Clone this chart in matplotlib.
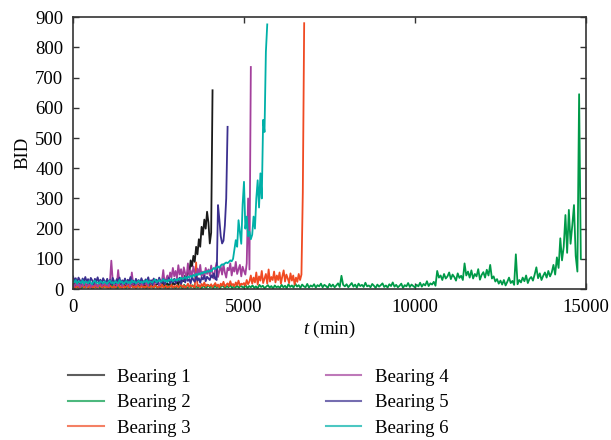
import numpy as np
import matplotlib
matplotlib.use("Agg")
import matplotlib.pyplot as plt

plt.rcParams["font.family"] = ["Liberation Serif", "DejaVu Serif"]
plt.rcParams["mathtext.fontset"] = "custom"
plt.rcParams["mathtext.it"] = "Liberation Serif:italic"
plt.rcParams["mathtext.rm"] = "Liberation Serif"

# BID values (sampling step in minutes per series)
step_green = 50
step_other = 40

bid1 = [
    12, 18, 9, 15, 21, 11, 16, 8, 14, 19, 10, 17, 13, 7, 15, 20, 11, 16, 9, 14, 18, 12, 8, 15, 11,
    17, 10, 14, 20, 9, 15, 12, 18, 8, 13, 19, 11, 16, 10, 14, 21, 9, 15, 12, 17, 8, 13, 18, 10, 15,
    12, 19, 9, 14, 17, 11, 16, 8, 13, 20, 10, 15, 18, 12, 9, 16, 21, 11, 14, 19, 13, 17, 10, 22, 15,
    18, 25, 14, 30, 22, 38, 26, 45, 35, 60, 50, 95, 75, 110, 90, 140, 115, 165, 140, 206, 180, 230, 200, 256, 220,
    151, 187, 658,
]

bid2 = [
    8, 3, 12, 5, 10, 2, 14, 6, 9, 4, 11, 3, 13, 7, 5, 12, 2, 9, 6, 15,
    4, 10, 3, 13, 6, 8, 2, 11, 5, 14, 7, 3, 10, 4, 12, 6, 9, 2, 13, 5,
    11, 4, 8, 2, 14, 6, 10, 3, 12, 5, 9, 2, 15, 7, 4, 11, 3, 13, 6, 8,
    3, 12, 5, 10, 2, 14, 7, 4, 11, 6, 13, 3, 9, 5, 12, 2, 10, 7, 4, 14,
    6, 9, 3, 12, 5, 11, 2, 13, 8, 4, 10, 6, 14, 3, 9, 5, 12, 4, 11, 7,
    5, 13, 3, 10, 6, 12, 4, 9, 2, 14, 7, 11, 3, 8, 13, 5, 10, 2, 12, 6,
    9, 4, 14, 6, 11, 3, 16, 7, 12, 5, 18, 8, 13, 4, 15, 9, 6, 17, 5, 12,
    8, 16, 5, 13, 9, 18, 6, 14, 10, 4, 17, 8, 15, 6, 12, 19, 7, 44, 14, 9,
    16, 6, 13, 20, 8, 15, 5, 18, 10, 14, 7, 21, 9, 12, 6, 17, 11, 4, 15, 8,
    13, 19, 7, 12, 5, 16, 10, 22, 8, 14, 6, 11, 18, 4, 13, 9, 20, 7, 15, 10,
    6, 14, 9, 21, 8, 17, 12, 26, 10, 19, 15, 24, 11, 60, 38, 45, 30, 50, 35, 42,
    55, 33, 48, 40, 28, 52, 37, 44, 30, 85, 45, 58, 38, 62, 35, 50, 42, 66, 31, 47,
    56, 38, 64, 45, 80, 35, 42, 25, 33, 18, 28, 15, 30, 12, 24, 38, 20, 27, 14, 115,
    16, 30, 22, 38, 26, 45, 20, 34, 40, 28, 48, 72, 36, 52, 30, 44, 55, 38, 60, 42,
    55, 80, 48, 105, 70, 168, 95, 140, 245, 120, 262, 150, 210, 278, 110, 58, 645, 100,
]

bid3 = [
    6, 10, 4, 12, 7, 3, 9, 14, 5, 8, 11, 4, 13, 6, 9, 3, 12, 7, 5, 10, 14, 4, 8, 11, 6,
    9, 3, 13, 7, 5, 11, 4, 10, 15, 6, 8, 3, 12, 5, 9, 14, 4, 7, 11, 6, 10, 3, 13, 8, 5,
    12, 6, 9, 4, 14, 7, 3, 11, 8, 5, 13, 9, 4, 10, 6, 15, 5, 8, 12, 3, 9, 7, 14, 4, 10,
    7, 13, 5, 10, 16, 6, 12, 4, 9, 18, 7, 14, 8, 11, 5, 88, 9, 13, 6, 17, 10, 22, 8, 15, 12,
    10, 16, 7, 13, 20, 9, 15, 6, 18, 11, 24, 8, 14, 19, 10, 26, 12, 17, 9, 22, 13, 28, 11, 18, 15,
    20, 12, 30, 16, 25, 45, 18, 38, 22, 55, 15, 42, 28, 60, 20, 35, 50, 18, 65, 25, 40, 30, 58, 22, 45,
    30, 55, 18, 42, 62, 25, 48, 35, 20, 52, 28, 45, 15, 38, 24, 50, 30, 48, 320, 880,
]

bid4 = [
    15, 8, 22, 12, 18, 6, 25, 10, 16, 20, 9, 14, 24, 7, 19, 11, 21, 13, 8, 17, 23, 10, 15, 19, 12,
    18, 9, 24, 94, 30, 14, 20, 11, 63, 16, 22, 10, 19, 25, 13, 17, 21, 8, 55, 15, 23, 12, 18, 26, 14,
    20, 13, 27, 16, 22, 11, 25, 18, 30, 14, 24, 19, 28, 12, 21, 26, 63, 17, 32, 45, 28, 55, 38, 70, 42,
    60, 35, 79, 48, 66, 30, 72, 52, 40, 85, 45, 62, 38, 75, 55, 33, 68, 48, 80, 42, 58, 36, 70, 50, 65,
    45, 78, 52, 35, 68, 88, 40, 60, 75, 48, 82, 55, 38, 70, 62, 85, 45, 72, 58, 90, 50, 66, 80, 42, 74,
    60, 48, 85, 300, 65, 735,
]

bid5 = [
    42, 28, 36, 22, 38, 30, 18, 35, 26, 40, 24, 33, 20, 37, 29, 16, 34, 25, 39, 22, 31, 18, 36, 27, 21,
    34, 20, 30, 15, 37, 26, 19, 33, 24, 38, 17, 29, 22, 35, 18, 31, 25, 40, 21, 28, 16, 34, 23, 30, 19,
    36, 24, 17, 32, 27, 39, 20, 29, 15, 35, 23, 31, 18, 38, 26, 21, 33, 17, 30, 24, 37, 19, 28, 22, 34,
    20, 31, 25, 38, 17, 29, 35, 22, 40, 27, 33, 19, 42, 30, 24, 45, 28, 36, 21, 39, 32, 44, 26, 41, 35,
    30, 46, 38, 52, 34, 30, 278, 230, 175, 151, 160, 210, 300, 537,
]

bid6 = [
    28, 22, 30, 18, 26, 24, 20, 29, 17, 25, 23, 19, 27, 21, 16, 24, 28, 20, 22, 18, 26, 23, 19, 25, 21,
    17, 24, 28, 20, 23, 18, 26, 22, 19, 30, 21, 25, 17, 23, 27, 20, 24, 18, 29, 22, 26, 19, 23, 28, 21,
    25, 20, 27, 23, 30, 19, 26, 24, 21, 28, 32, 22, 26, 30, 24, 27, 33, 25, 29, 23, 31, 28, 34, 26, 30,
    32, 28, 35, 30, 38, 33, 36, 40, 34, 42, 38, 44, 40, 47, 43, 50, 46, 52, 48, 55, 51, 58, 54, 60, 57,
    62, 58, 65, 70, 66, 72, 75, 70, 78, 82, 80, 85, 88, 86, 90, 95, 92, 100, 130, 162, 140, 228, 190, 150, 280,
    355, 200, 240, 175, 190, 165, 180, 240, 200, 300, 360, 270, 383, 300, 560, 520, 785, 876,
]

labels = ["Bearing 1", "Bearing 2", "Bearing 3", "Bearing 4", "Bearing 5", "Bearing 6"]
colors = ["#1a1a1a", "#009a48", "#f04a22", "#a3409c", "#3b2f8f", "#00b0a8"]
series = [bid1, bid2, bid3, bid4, bid5, bid6]
steps = [step_other, step_green, step_other, step_other, step_other, step_other]

fig = plt.figure(figsize=(6.11, 4.40), dpi=100)
ax = fig.add_axes([0.1195, 0.343, 0.8395, 0.618])

for vals, st, lab, col in zip(series, steps, labels, colors):
    t = np.arange(len(vals)) * st
    ax.plot(t, vals, color=col, lw=1.3, label=lab)

ax.set_xlim(0, 15000)
ax.set_ylim(0, 900)
ax.set_xticks([0, 5000, 10000, 15000])
ax.set_yticks(range(0, 901, 100))
ax.tick_params(direction="in", top=True, right=True, length=4, width=1,
               labelsize=13.5, pad=7, color="#333333")
for s in ax.spines.values():
    s.set_linewidth(1.2)
    s.set_color("#333333")

ax.set_xlabel(r"$t$ (min)", fontsize=13.5, labelpad=2)
ax.set_ylabel("BID", fontsize=13.5, labelpad=3)

leg = fig.legend(loc="upper left", bbox_to_anchor=(0.112, 0.162), ncol=2,
                 frameon=False, fontsize=13.5, handlelength=1.9, handletextpad=0.7,
                 columnspacing=7.2, labelspacing=0.45, borderpad=0, borderaxespad=0)
for h in leg.get_lines():
    h.set_alpha(0.7)
    h.set_linewidth(1.5)

plt.savefig("out.png", dpi=100)
